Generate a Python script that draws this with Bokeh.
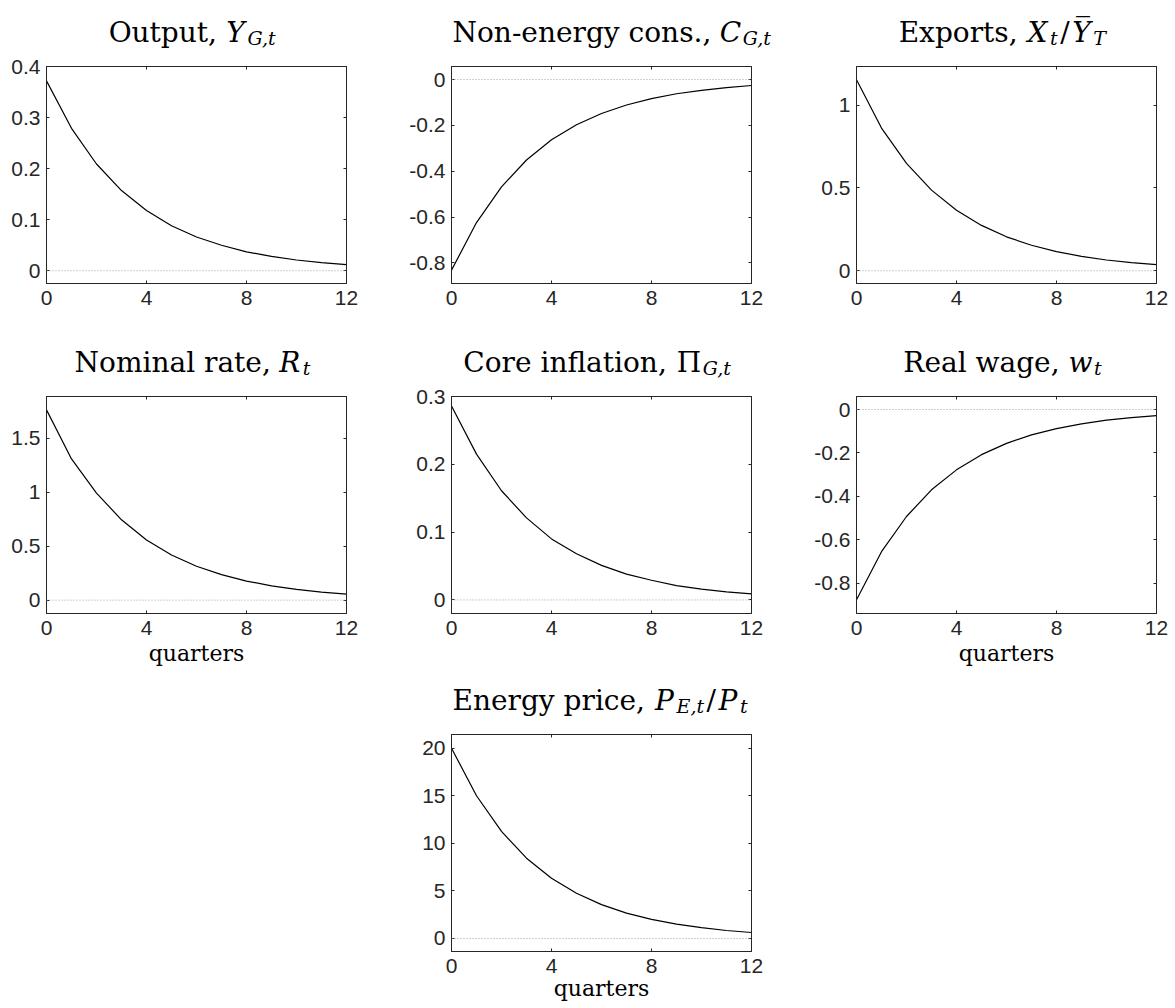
from bokeh.plotting import figure
from bokeh.models import Range1d, FixedTicker, LinearAxis, Span, Label, Spacer
from bokeh.layouts import column, row
from bokeh.embed import file_html
from bokeh.resources import INLINE

# ---------------- data ----------------
quarters = [0, 1, 2, 3, 4, 5, 6, 7, 8, 9, 10, 11, 12]

output_g = [0.372, 0.279, 0.209, 0.157, 0.118, 0.088, 0.066, 0.050, 0.037, 0.028, 0.021, 0.016, 0.012]
cons_g = [-0.832, -0.624, -0.468, -0.351, -0.263, -0.197, -0.148, -0.111, -0.083, -0.062, -0.047, -0.035, -0.026]
exports = [1.154, 0.862, 0.649, 0.487, 0.365, 0.274, 0.205, 0.154, 0.116, 0.087, 0.065, 0.049, 0.037]
nominal_rate = [1.765, 1.31, 0.993, 0.745, 0.558, 0.419, 0.314, 0.236, 0.177, 0.133, 0.099, 0.075, 0.056]
core_inflation = [0.286, 0.215, 0.161, 0.121, 0.090, 0.068, 0.051, 0.038, 0.029, 0.021, 0.016, 0.012, 0.009]
real_wage = [-0.877, -0.655, -0.493, -0.370, -0.278, -0.208, -0.156, -0.117, -0.088, -0.066, -0.049, -0.037, -0.028]
energy_price = [20.0, 15.0, 11.25, 8.44, 6.33, 4.75, 3.56, 2.67, 2.00, 1.50, 1.13, 0.84, 0.63]

x_ticks = [0, 4, 8, 12]
x_tick_labels = ["0", "4", "8", "12"]

yt_output = [0, 0.1, 0.2, 0.3, 0.4]
yl_output = ["0", "0.1", "0.2", "0.3", "0.4"]
yt_cons = [-0.8, -0.6, -0.4, -0.2, 0]
yl_cons = ["-0.8", "-0.6", "-0.4", "-0.2", "0"]
yt_exports = [0, 0.5, 1]
yl_exports = ["0", "0.5", "1"]
yt_rate = [0, 0.5, 1, 1.5]
yl_rate = ["0", "0.5", "1", "1.5"]
yt_infl = [0, 0.1, 0.2, 0.3]
yl_infl = ["0", "0.1", "0.2", "0.3"]
yt_wage = [-0.8, -0.6, -0.4, -0.2, 0]
yl_wage = ["-0.8", "-0.6", "-0.4", "-0.2", "0"]
yt_energy = [0, 5, 10, 15, 20]
yl_energy = ["0", "5", "10", "15", "20"]

xlabel_text = "quarters"

# ---------------- styling ----------------
AX = "#262626"
SERIF = "DejaVu Serif"
SANS = "Liberation Sans"
S_MAIN = 28
S_SUB = 19
FW, FH = 300, 217
LEFT = 46
TOP = 12
R12, R3 = 59, 16

W = {
    'O': .787, 'u': .644, 't': .402, 'p': .640, ',': .318, ' ': .318, 'N': .813,
    'o': .602, 'n': .644, '-': .338, 'e': .592, 'r': .478, 'g': .640, 'y': .565,
    'c': .560, 's': .513, '.': .318, 'E': .724, 'x': .564, 'm': .948, 'i': .320,
    'a': .596, 'l': .320, 'C': .734, 'f': .370, 'R': .753, 'w': .818, 'P': .683,
    '/': .337, '\u03a0': .84, 'Y': .669, 'X': .716, 'G': .806, 'T': .682,
    '\u0305': 0.0,
}


def tw(s, size):
    return sum(W.get(ch, 0.6) for ch in s) * size


def blank_fig(right, height):
    f = figure(frame_width=FW + right, frame_height=height,
               min_border_left=LEFT, min_border_right=0,
               min_border_top=0, min_border_bottom=0,
               x_axis_type=None, y_axis_type=None,
               x_range=Range1d(0, 1), y_range=Range1d(0, 1),
               toolbar_location=None, output_backend="svg", title=None)
    f.xgrid.visible = False
    f.ygrid.visible = False
    f.outline_line_color = None
    f.background_fill_color = "white"
    f.border_fill_color = "white"
    return f


def title_fig(right, pieces, height=54, shift=-4):
    f = blank_fig(right, height)
    gaps, widths = [], []
    for i, (txt, kind) in enumerate(pieces):
        size = S_SUB if kind == "sub" else S_MAIN
        widths.append(tw(txt, size))
        if i == 0:
            gaps.append(0.0)
        elif i == 1:
            gaps.append(0.36 * S_MAIN)
        else:
            gaps.append(2.5)
    total = sum(widths) + sum(gaps)
    x = max(FW / 2 - total / 2 + shift, 1.0)
    for (txt, kind), w, g in zip(pieces, widths, gaps):
        x += g
        size = S_SUB if kind == "sub" else S_MAIN
        style = "italic" if kind in ("it", "sub") else "normal"
        y = 17 if kind == "sub" else 22
        f.add_layout(Label(x=x, y=y, x_units="screen", y_units="screen", text=txt,
                           text_font=SERIF, text_font_size=f"{size}px",
                           text_font_style=style, text_color="black",
                           text_align="left", text_baseline="alphabetic"))
        x += w
    return f


def style_axis(ax, ticks, labels, standoff):
    ax.ticker = FixedTicker(ticks=ticks)
    ax.major_label_overrides = dict(zip(ticks, labels))
    ax.major_tick_in = 3
    ax.major_tick_out = 0
    ax.minor_tick_line_color = None
    ax.axis_line_color = AX
    ax.major_tick_line_color = AX
    ax.major_label_text_font = SANS
    ax.major_label_text_font_size = "21px"
    ax.major_label_text_color = AX
    ax.major_label_standoff = standoff


def mirror_axis(ticks):
    return LinearAxis(ticker=FixedTicker(ticks=ticks), major_label_text_color=None,
                      major_label_text_font_size="0px", major_label_standoff=0,
                      major_tick_in=3, major_tick_out=0, minor_tick_line_color=None,
                      axis_line_color=AX, major_tick_line_color=AX)


def plot_fig(series, yticks, ylabels, ylo, yhi, right, bottom, xlabel_standoff=None):
    p = figure(frame_width=FW, frame_height=FH, min_border_left=LEFT,
               min_border_right=right, min_border_top=TOP,
               min_border_bottom=bottom,
               x_range=Range1d(0, 12), y_range=Range1d(ylo, yhi),
               toolbar_location=None, output_backend="svg", title=None)
    p.xgrid.visible = False
    p.ygrid.visible = False
    p.background_fill_color = "white"
    p.border_fill_color = "white"
    p.outline_line_color = AX
    style_axis(p.xaxis[0], x_ticks, x_tick_labels, 7)
    style_axis(p.yaxis[0], yticks, ylabels, 6)
    if xlabel_standoff is not None:
        xa = p.xaxis[0]
        xa.axis_label = xlabel_text
        xa.axis_label_text_font = SERIF
        xa.axis_label_text_font_size = "22px"
        xa.axis_label_text_font_style = "normal"
        xa.axis_label_text_color = "black"
        xa.axis_label_standoff = xlabel_standoff
    p.add_layout(mirror_axis(x_ticks), "above")
    p.add_layout(mirror_axis(yticks), "right")
    p.add_layout(Span(location=0, dimension="width", line_color="#a0a0a0",
                      line_dash="1 2", line_width=1))
    p.line(quarters, series, line_color="black", line_width=1.2)
    return p


t1 = [("Output,", "rm"), ("Y", "it"), ("G,t", "sub")]
t2 = [("Non-energy cons.,", "rm"), ("C", "it"), ("G,t", "sub")]
t3 = [("Exports,", "rm"), ("X", "it"), ("t", "sub"), ("/", "rm"), ("Y\u0305", "it"), ("T", "sub")]
t4 = [("Nominal rate,", "rm"), ("R", "it"), ("t", "sub")]
t5 = [("Core inflation,", "rm"), ("\u03a0", "rm"), ("G,t", "sub")]
t6 = [("Real wage,", "rm"), ("w", "it"), ("t", "sub")]
t7 = [("Energy price,", "rm"), ("P", "it"), ("E,t", "sub"), ("/", "rm"), ("P", "it"), ("t", "sub")]

# row 1  (54 + 276 = 330)
r1_titles = row(title_fig(R12, t1), title_fig(R12, t2), title_fig(R3, t3), spacing=0)
r1_plots = row(
    plot_fig(output_g, yt_output, yl_output, -0.025, 0.4, R12, 47),
    plot_fig(cons_g, yt_cons, yl_cons, -0.89, 0.057, R12, 47),
    plot_fig(exports, yt_exports, yl_exports, -0.077, 1.234, R3, 47),
    spacing=0)

# row 2  (54 + 288 = 342)
r2_titles = row(title_fig(R12, t4), title_fig(R12, t5), title_fig(R3, t6), spacing=0)
r2_plots = row(
    plot_fig(nominal_rate, yt_rate, yl_rate, -0.124, 1.889, R12, 59, xlabel_standoff=3),
    plot_fig(core_inflation, yt_infl, yl_infl, -0.02, 0.3, R12, 59),
    plot_fig(real_wage, yt_wage, yl_wage, -0.94, 0.06, R3, 59, xlabel_standoff=3),
    spacing=0)

# row 3  (50 + 285 = 335)
CELL = LEFT + FW + R12
r3_title = row(Spacer(width=CELL, height=50), title_fig(R12, t7, height=50), spacing=0)
r3_plot = row(Spacer(width=CELL, height=10),
              plot_fig(energy_price, yt_energy, yl_energy, -1.37, 21.44, R12, 56,
                       xlabel_standoff=0),
              spacing=0)

layout = column(r1_titles, r1_plots, r2_titles, r2_plots, r3_title, r3_plot, spacing=0)

open("out.html", "w").write(file_html(layout, INLINE))
